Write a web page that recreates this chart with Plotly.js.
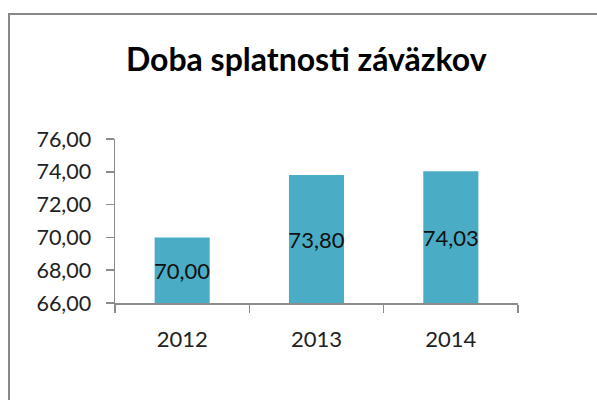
<!DOCTYPE html>
<html>
<head>
<meta charset="utf-8">
<script src="https://cdn.plot.ly/plotly-3.0.1.min.js"></script>
<style>
html,body{margin:0;padding:0;background:#fff;}
#frame{position:absolute;left:8px;top:13px;width:600px;height:400px;border-left:2px solid #888;border-top:2px solid #888;box-sizing:border-box;}
#chart{position:absolute;left:0;top:0;width:597px;height:400px;}
</style>
</head>
<body>
<div id="frame"></div>
<div id="chart"></div>
<script>
const years = ['2012', '2013', '2014'];
const values = [70.00, 73.80, 74.03];
const yTicks = [66, 68, 70, 72, 74, 76];
const axisMin = 66;
const chartTitle = 'Doba splatnosti záväzkov';

const font = 'Lato, "Open Sans", sans-serif';

Plotly.newPlot('chart', [{
  type: 'bar',
  x: years,
  y: values.map(v => v - axisMin),
  base: axisMin,
  customdata: values,
  width: 0.41,
  marker: {color: '#4BACC6'},
  texttemplate: '%{customdata:.2f}',
  textposition: 'inside',
  insidetextanchor: 'middle',
  textangle: 0,
  constraintext: 'none',
  insidetextfont: {family: font, size: 22, color: '#111'},
  hoverinfo: 'skip'
}], {
  width: 597, height: 400,
  separators: ',.',
  paper_bgcolor: 'rgba(0,0,0,0)',
  plot_bgcolor: 'rgba(0,0,0,0)',
  margin: {l: 115, r: 79, t: 139, b: 97},
  title: {text: '<b>' + chartTitle + '</b>', font: {family: font, size: 32, color: '#000'}, x: 0.513, xanchor: 'center', y: 0.85, yanchor: 'middle'},
  showlegend: false,
  xaxis: {
    type: 'category',
    range: [-0.5, 2.5],
    showline: true, linecolor: '#8c8c8c', linewidth: 1.5,
    ticks: 'outside', tickson: 'boundaries', ticklen: 8, tickcolor: '#8c8c8c', tickwidth: 1.5,
    tickfont: {family: font, size: 22, color: '#222'},
    ticklabelstandoff: 16,
    showgrid: false, zeroline: false, fixedrange: true
  },
  yaxis: {
    range: [66, 76],
    tickvals: yTicks,
    tickformat: '.2f',
    showline: true, linecolor: '#8c8c8c', linewidth: 1.5,
    ticks: 'outside', ticklen: 8, tickcolor: '#8c8c8c', tickwidth: 1.5,
    tickfont: {family: font, size: 21.5, color: '#222'},
    ticklabelstandoff: 10,
    showgrid: false, zeroline: false, fixedrange: true
  }
}, {displayModeBar: false, staticPlot: true});
</script>
</body>
</html>
